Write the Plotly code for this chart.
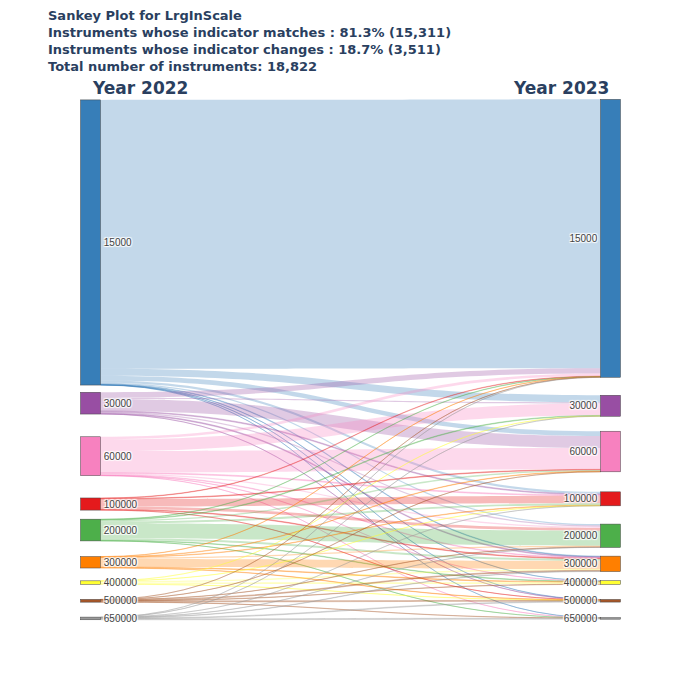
import plotly.graph_objects as go

labels = ["15000", "30000", "60000", "100000", "200000", "300000", "400000", "500000", "650000"]
colors = ["#377eb8", "#984ea3", "#f781bf", "#e41a1c", "#4daf4a", "#ff7f00", "#ffff33", "#a65628", "#999999"]
link_rgba = ["rgba(55,126,184,0.3)", "rgba(152,78,163,0.3)", "rgba(247,129,191,0.3)", "rgba(228,26,28,0.3)",
             "rgba(77,175,74,0.3)", "rgba(255,127,0,0.3)", "rgba(255,255,51,0.3)", "rgba(166,86,40,0.3)",
             "rgba(153,153,153,0.3)"]

# flows[i][j]: instruments going from 2022 class i to 2023 class j (estimated)
flows = [
    [12550, 330, 220, 100, 60, 30, 10, 8, 4],
    [250, 60, 560, 40, 60, 40, 0, 6, 0],
    [120, 550, 1000, 40, 60, 30, 10, 0, 4],
    [20, 0, 30, 350, 130, 30, 0, 6, 0],
    [15, 30, 60, 90, 700, 90, 25, 0, 5],
    [10, 0, 20, 20, 60, 380, 30, 15, 0],
    [0, 5, 0, 8, 0, 60, 80, 8, 0],
    [5, 0, 5, 0, 10, 40, 15, 45, 10],
    [5, 5, 0, 5, 10, 20, 0, 35, 45],
]

# node centre positions (fraction of plot height) for each column
y_left = [0.274, 0.583, 0.685, 0.777, 0.827, 0.889, 0.928, 0.963, 0.997]
y_right = [0.266, 0.588, 0.676, 0.767, 0.838, 0.892, 0.928, 0.963, 0.997]

n = len(labels)
source, target, value, lcol = [], [], [], []
for i in range(n):
    for j in range(n):
        if flows[i][j] > 0:
            source.append(i)
            target.append(n + j)
            value.append(flows[i][j])
            lcol.append(link_rgba[i])

fig = go.Figure(go.Sankey(
    arrangement="fixed",
    node=dict(
        label=labels + labels,
        color=colors + colors,
        x=[0.001] * n + [0.999] * n,
        y=y_left + y_right,
        pad=15,
        thickness=20,
        line=dict(color="#444", width=0.5),
    ),
    link=dict(source=source, target=target, value=value, color=lcol),
    textfont=dict(size=10, color="#444", family="Arial, Liberation Sans"),
))

title = ("<b>Sankey Plot for LrgInScale<br>"
         "Instruments whose indicator matches : 81.3% (15,311)<br>"
         "Instruments whose indicator changes : 18.7% (3,511)<br>"
         "Total number of instruments: 18,822</b>")

fig.update_layout(
    width=700, height=700,
    font=dict(family="Verdana, DejaVu Sans"),
    margin=dict(l=82, r=97, t=92, b=88),
    annotations=[
        dict(text=title, x=35, y=700, xref="paper", yref="paper", showarrow=False, align="left",
             xanchor="left", yanchor="top", font=dict(size=13, color="#2a3f5f")),
        dict(text="<b>Year 2022</b>", x=0, y=1.0, xref="paper", yref="paper", xanchor="left",
             yanchor="bottom", showarrow=False, font=dict(size=17, color="#2a3f5f")),
        dict(text="<b>Year 2023</b>", x=1, y=1.0, xref="paper", yref="paper", xanchor="right",
             yanchor="bottom", showarrow=False, font=dict(size=17, color="#2a3f5f")),
    ],
)
# place the title block at the very top-left of the page
fig.layout.annotations[0].update(x=-0.085, y=1.18)
fig.write_html("out.html")
